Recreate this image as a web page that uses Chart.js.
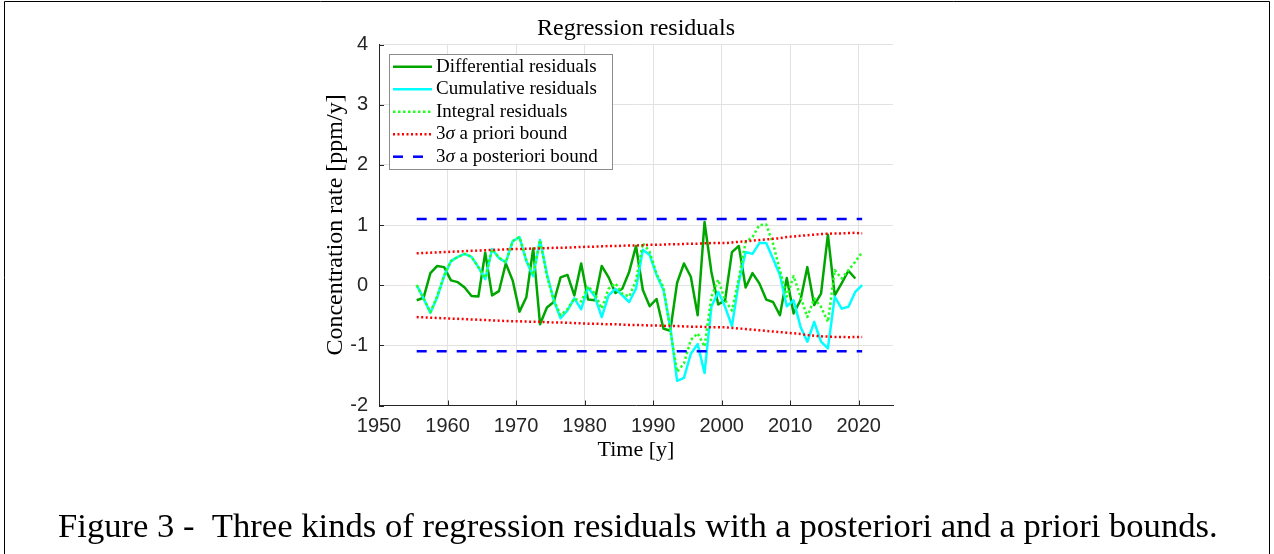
<!DOCTYPE html>
<html><head><meta charset="utf-8">
<script src="https://cdn.jsdelivr.net/npm/chart.js@4.4.0/dist/chart.umd.min.js"></script>
<style>html,body{margin:0;padding:0;background:#fff;}#wrap{position:relative;width:1274px;height:554px;}canvas{display:block;}</style>
</head><body><div id="wrap"><canvas id="c" width="1274" height="554"></canvas></div>
<script>
// ---- data ----
const years = [1955.5,1956.5,1957.5,1958.5,1959.5,1960.5,1961.5,1962.5,1963.5,1964.5,
  1965.5,1966.5,1967.5,1968.5,1969.5,1970.5,1971.5,1972.5,1973.5,1974.5,
  1975.5,1976.5,1977.5,1978.5,1979.5,1980.5,1981.5,1982.5,1983.5,1984.5,
  1985.5,1986.5,1987.5,1988.5,1989.5,1990.5,1991.5,1992.5,1993.5,1994.5,
  1995.5,1996.5,1997.5,1998.5,1999.5,2000.5,2001.5,2002.5,2003.5,2004.5,
  2005.5,2006.5,2007.5,2008.5,2009.5,2010.5,2011.5,2012.5,2013.5,2014.5,
  2015.5,2016.5,2017.5,2018.5,2019.5,2020.5];
const diffRes = [-0.25,-0.21,0.20,0.32,0.30,0.08,0.05,-0.04,-0.18,-0.19,
  0.54,-0.17,-0.10,0.36,0.08,-0.44,-0.20,0.61,-0.65,-0.37,
  -0.28,0.13,0.17,-0.17,0.36,-0.24,-0.25,0.32,0.13,-0.13,
  -0.06,0.22,0.65,-0.08,-0.35,-0.23,-0.72,-0.76,0.04,0.36,
  0.14,-0.50,1.05,0.22,-0.32,-0.25,0.55,0.65,-0.04,0.20,
  0.03,-0.24,-0.28,-0.50,0.12,-0.47,-0.25,0.30,-0.33,-0.14,
  0.84,-0.17,0.03,0.24,0.11];
const cumRes = [0.00,-0.22,-0.46,-0.20,0.15,0.40,0.47,0.52,0.47,0.30,
  0.10,0.60,0.45,0.38,0.73,0.80,0.40,0.15,0.75,0.19,
  -0.25,-0.55,-0.42,-0.22,-0.40,-0.04,-0.19,-0.53,-0.17,-0.06,
  -0.17,-0.28,-0.06,0.59,0.50,0.17,-0.08,-0.69,-1.59,-1.54,
  -1.14,-0.98,-1.46,-0.36,-0.11,-0.36,-0.68,0.05,0.55,0.52,
  0.70,0.70,0.44,0.17,-0.35,-0.25,-0.69,-0.94,-0.61,-0.94,
  -1.05,-0.19,-0.39,-0.36,-0.11,0.00];
const intRes = [0.00,-0.22,-0.45,-0.18,0.16,0.40,0.47,0.52,0.47,0.30,
  0.12,0.60,0.46,0.38,0.73,0.80,0.42,0.17,0.75,0.15,
  -0.25,-0.50,-0.40,-0.22,-0.27,-0.02,-0.14,-0.39,-0.06,0.03,
  -0.14,-0.19,0.08,0.70,0.55,0.19,-0.03,-0.75,-1.44,-1.30,
  -0.91,-0.80,-1.02,-0.19,0.09,-0.25,-0.42,0.11,0.72,0.80,
  1.00,1.01,0.69,0.25,-0.19,0.15,-0.19,-0.53,-0.22,-0.36,
  -0.61,0.25,0.11,0.25,0.39,0.55];
const aprioriUpper = [0.53,0.535,0.54,0.545,0.55,0.555,0.56,0.565,0.57,0.575,
  0.58,0.585,0.59,0.595,0.60,0.60,0.605,0.61,0.61,0.615,
  0.62,0.62,0.625,0.63,0.635,0.64,0.64,0.645,0.65,0.65,
  0.655,0.66,0.66,0.665,0.67,0.67,0.675,0.68,0.68,0.685,
  0.69,0.69,0.695,0.70,0.70,0.70,0.71,0.72,0.73,0.74,
  0.75,0.76,0.77,0.78,0.80,0.81,0.82,0.83,0.84,0.85,
  0.855,0.86,0.86,0.865,0.87,0.86];
const aprioriLower = [-0.53,-0.535,-0.54,-0.545,-0.55,-0.555,-0.56,-0.565,-0.57,-0.575,
  -0.58,-0.585,-0.59,-0.595,-0.60,-0.60,-0.605,-0.61,-0.61,-0.615,
  -0.62,-0.62,-0.625,-0.63,-0.635,-0.64,-0.64,-0.645,-0.65,-0.65,
  -0.655,-0.66,-0.66,-0.665,-0.67,-0.67,-0.675,-0.68,-0.68,-0.685,
  -0.69,-0.69,-0.695,-0.70,-0.70,-0.70,-0.71,-0.72,-0.73,-0.74,
  -0.75,-0.76,-0.77,-0.78,-0.79,-0.80,-0.81,-0.83,-0.84,-0.85,
  -0.855,-0.86,-0.86,-0.865,-0.86,-0.86];
const boundYears = [1955.5, 2020.5];
const aposterioriUpper = [1.1, 1.1];
const aposterioriLower = [-1.1, -1.1];
const xTicks = [1950,1960,1970,1980,1990,2000,2010,2020];
const yTicks = [-2,-1,0,1,2,3,4];
const seriesNames = ['Differential residuals','Cumulative residuals','Integral residuals','3σ a priori bound','3σ a posteriori bound'];
const chartTitle = 'Regression residuals';
const xTitle = 'Time [y]';
const yTitle = 'Concentration rate [ppm/y]';
const caption = 'Figure 3 -  Three kinds of regression residuals with a posteriori and a priori bounds.';

// ---- styles ----
const C_DIFF = '#00a600', C_CUM = '#00ffff', C_INT = '#22ff22', C_RED = '#ff0000', C_BLUE = '#0000ff';
const SERIF = '"Liberation Serif", "Times New Roman", serif';
const SANS = '"Liberation Sans", Arial, sans-serif';
const AX = '#262626';
const styles = [
  {color: C_DIFF, dash: [], width: 2.5},
  {color: C_CUM, dash: [], width: 2.5},
  {color: C_INT, dash: [2.5, 2.5], width: 2.5},
  {color: C_RED, dash: [2, 2.5], width: 2.5},
  {color: C_BLUE, dash: [10, 10], width: 2.5}
];
const pts = (xs, ys) => ys.map((v, i) => ({x: xs[i], y: v}));
const ds = (label, data, st, order) => ({label, data, borderColor: st.color, backgroundColor: st.color,
  borderWidth: st.width, borderDash: st.dash, pointRadius: 0, tension: 0, fill: false, order,
  borderCapStyle: 'butt', borderJoinStyle: 'round'});

const decor = {
  id: 'decor',
  afterDraw(chart) {
    const ctx = chart.ctx, xs = chart.scales.x, ys = chart.scales.y, ca = chart.chartArea;
    ctx.save();
    // inward tick marks
    ctx.strokeStyle = AX; ctx.lineWidth = 1; ctx.setLineDash([]);
    ctx.beginPath();
    xTicks.forEach(v => { const p = Math.round(xs.getPixelForValue(v)) + 0.5; ctx.moveTo(p, ca.bottom); ctx.lineTo(p, ca.bottom - 5); });
    yTicks.forEach(v => { const p = Math.round(ys.getPixelForValue(v)) + 0.5; ctx.moveTo(ca.left, p); ctx.lineTo(ca.left + 5, p); });
    ctx.stroke();
    // title
    ctx.fillStyle = '#000';
    ctx.font = '24px ' + SERIF; ctx.textAlign = 'center'; ctx.textBaseline = 'alphabetic';
    ctx.fillText(chartTitle, (ca.left + ca.right) / 2, 35);
    // legend
    const bx = 389.5, by = 54.5, bw = 223, bh = 115;
    ctx.fillStyle = '#fff'; ctx.fillRect(bx, by, bw, bh);
    ctx.strokeStyle = '#8c8c8c'; ctx.lineWidth = 1; ctx.strokeRect(bx, by, bw, bh);
    ctx.textAlign = 'left'; ctx.textBaseline = 'middle';
    seriesNames.forEach((name, i) => {
      const y = 66.7 + i * 22.5, st = styles[i];
      ctx.strokeStyle = st.color; ctx.lineWidth = st.width; ctx.setLineDash(st.dash); ctx.lineCap = 'butt';
      ctx.beginPath(); ctx.moveTo(393, y); ctx.lineTo(432, y); ctx.stroke();
      ctx.setLineDash([]);
      ctx.fillStyle = '#000';
      let x = 436;
      const parts = name.split('σ');
      if (parts.length > 1) {
        ctx.font = '19px ' + SERIF; ctx.fillText(parts[0], x, y); x += ctx.measureText(parts[0]).width;
        ctx.font = 'italic 19px ' + SERIF; ctx.fillText('σ', x, y); x += ctx.measureText('σ').width;
        ctx.font = '19px ' + SERIF; ctx.fillText(parts[1], x, y);
      } else {
        ctx.font = '19px ' + SERIF; ctx.fillText(name, x, y);
      }
    });
    // caption
    ctx.font = '100px ' + SERIF;
    const w = ctx.measureText(caption).width;
    const fs = 100 * 1160 / w;
    ctx.font = fs.toFixed(2) + 'px ' + SERIF; ctx.textBaseline = 'alphabetic'; ctx.textAlign = 'left';
    ctx.fillStyle = '#000';
    ctx.fillText(caption, 58, 537);
    // frame
    ctx.strokeStyle = '#000'; ctx.lineWidth = 1;
    ctx.beginPath();
    ctx.moveTo(4.5, 554); ctx.lineTo(4.5, 1.5); ctx.lineTo(1269.5, 1.5); ctx.lineTo(1269.5, 554);
    ctx.stroke();
    ctx.restore();
  }
};

new Chart(document.getElementById('c'), {
  type: 'line',
  data: {
    datasets: [
      ds(seriesNames[0], pts(years, diffRes), styles[0], 5),
      ds(seriesNames[1], pts(years, cumRes), styles[1], 4),
      ds(seriesNames[2], pts(years, intRes), styles[2], 3),
      ds(seriesNames[3], pts(years, aprioriUpper), styles[3], 2),
      ds(seriesNames[3] + ' (lower)', pts(years, aprioriLower), styles[3], 2),
      ds(seriesNames[4], pts(boundYears, aposterioriUpper), styles[4], 1),
      ds(seriesNames[4] + ' (lower)', pts(boundYears, aposterioriLower), styles[4], 1)
    ]
  },
  options: {
    responsive: false, animation: false, devicePixelRatio: 1,
    layout: {padding: {left: 321, right: 381, top: 44.5, bottom: 90.8}},
    plugins: {legend: {display: false}, tooltip: {enabled: false}, title: {display: false}},
    scales: {
      x: {
        type: 'linear', min: 1950, max: 2025,
        afterBuildTicks: s => { s.ticks = xTicks.map(v => ({value: v})); },
        afterFit: s => { s.height = 57.7; },
        ticks: {font: {family: SANS, size: 20}, color: AX, padding: 9, maxRotation: 0, autoSkip: false,
          callback: v => String(v)},
        grid: {color: '#e2e2e2', lineWidth: 1, drawTicks: false},
        border: {display: true, color: AX, width: 1},
        title: {display: true, text: xTitle, font: {family: SERIF, size: 22}, color: '#000', padding: 0}
      },
      y: {
        type: 'linear', min: -2, max: 4,
        afterBuildTicks: s => { s.ticks = yTicks.map(v => ({value: v})); },
        afterFit: s => { s.width = 58; },
        ticks: {font: {family: SANS, size: 20}, color: AX, padding: 11, callback: v => String(v)},
        grid: {color: '#e2e2e2', lineWidth: 1, drawTicks: false},
        border: {display: true, color: AX, width: 1},
        title: {display: true, text: yTitle, font: {family: SERIF, size: 24}, color: '#000', padding: 0}
      }
    }
  },
  plugins: [decor]
});
</script></body></html>
